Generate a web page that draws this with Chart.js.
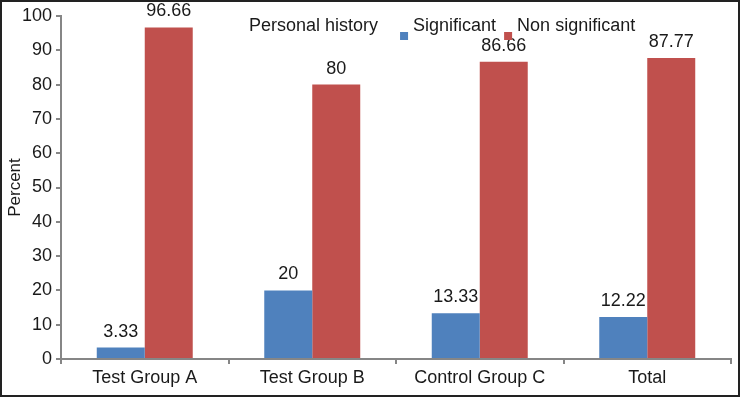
<!DOCTYPE html>
<html lang="en">
<head>
    <meta charset="UTF-8">
    <title>Personal history</title>
    <script src="https://cdn.jsdelivr.net/npm/chart.js@4.4.1/dist/chart.umd.min.js"></script>
    <style>
        body { margin: 0; background: #fff; }
        .wrap { width: 740px; height: 397px; position: relative; }
    </style>
</head>
<body>
    <div class="wrap">
        <canvas id="bar-chart" width="740" height="397"></canvas>
    </div>
<script>
    const categories = ["Test Group A", "Test Group B", "Control Group C", "Total"]
    const significant = [3.33, 20, 13.33, 12.22]
    const nonSignificant = [96.66, 80, 86.66, 87.77]
    const yTicks = [0, 10, 20, 30, 40, 50, 60, 70, 80, 90, 100]

    const FONT = "'Liberation Sans', Arial, sans-serif"
    const axisGrey = "#868686"

    // value labels, legend, frame
    const extras = {
        id: 'extras',
        afterDatasetsDraw(chart) {
            const ctx = chart.ctx
            ctx.save()
            ctx.font = "18px " + FONT
            ctx.fillStyle = "#1a1a1a"
            ctx.textAlign = "center"
            ctx.textBaseline = "bottom"
            chart.data.datasets.forEach((ds, i) => {
                chart.getDatasetMeta(i).data.forEach((bar, j) => {
                    ctx.fillText(String(ds.data[j]), bar.x, bar.y - 7)
                })
            })

            // legend
            ctx.textAlign = "left"
            ctx.textBaseline = "middle"
            let x = 249, y = 26
            ctx.fillText("Personal history", x, y)
            x += ctx.measureText("Personal history").width + 22
            chart.data.datasets.forEach(ds => {
                ctx.fillStyle = ds.backgroundColor
                ctx.fillRect(x, y + 6, 8, 8)
                x += 13
                ctx.fillStyle = "#1a1a1a"
                ctx.fillText(ds.label, x, y)
                x += ctx.measureText(ds.label).width + 8
            })

            // frame
            ctx.strokeStyle = "#222"
            ctx.lineWidth = 2
            ctx.strokeRect(1, 1, chart.width - 2, chart.height - 2)
            ctx.restore()
        }
    }

    new Chart(document.getElementById("bar-chart"), {
        type: 'bar',
        data: {
            labels: categories,
            datasets: [
                { label: "Significant", data: significant, backgroundColor: "#4F81BD" },
                { label: "Non significant", data: nonSignificant, backgroundColor: "#C0504D" }
            ]
        },
        options: {
            responsive: false,
            animation: false,
            layout: { padding: { left: 0, right: 9, top: 16, bottom: 0 } },
            datasets: { bar: { categoryPercentage: 0.573, barPercentage: 1 } },
            plugins: {
                legend: { display: false },
                tooltip: { enabled: false }
            },
            scales: {
                x: {
                    grid: { display: true, drawOnChartArea: false, offset: true, tickLength: 5, color: axisGrey, lineWidth: 2 },
                    border: { color: axisGrey, width: 2 },
                    ticks: { color: "#1a1a1a", font: { family: FONT, size: 18 }, padding: 3, maxRotation: 0 },
                    afterFit(scale) { scale.height = 38 }
                },
                y: {
                    min: 0,
                    max: 100,
                    afterBuildTicks(scale) { scale.ticks = yTicks.map(v => ({ value: v })) },
                    grid: { display: true, drawOnChartArea: false, tickLength: 5, color: axisGrey, lineWidth: 2 },
                    border: { color: axisGrey, width: 2 },
                    ticks: { color: "#1a1a1a", font: { family: FONT, size: 18 }, padding: 4 },
                    title: { display: true, text: "Percent", color: "#1a1a1a", font: { family: FONT, size: 17 }, padding: { top: 5, bottom: 0 } },
                    afterFit(scale) { scale.width = 61 }
                }
            }
        },
        plugins: [extras]
    })
</script>
</body>
</html>
